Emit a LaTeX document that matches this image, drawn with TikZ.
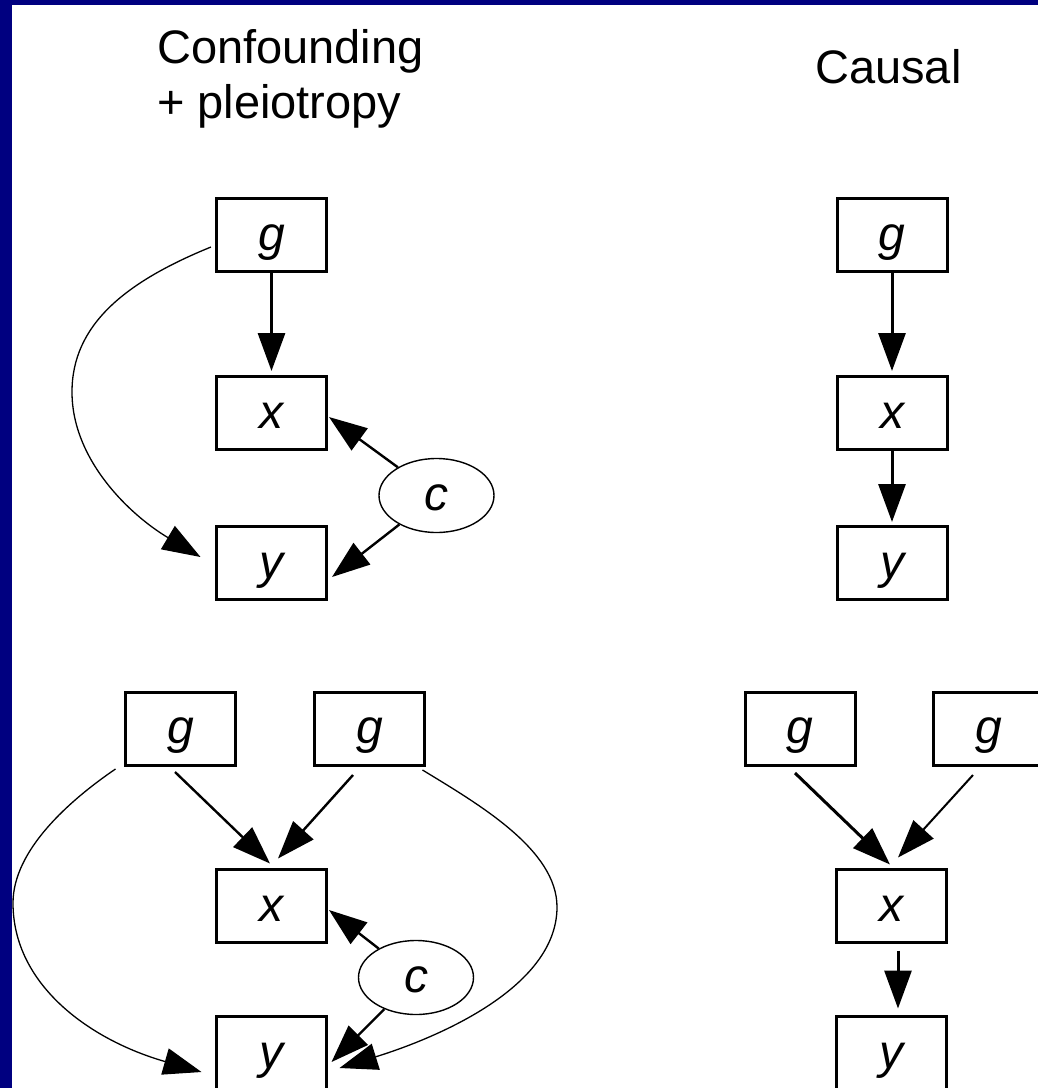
\documentclass[tikz,border=0pt]{standalone}
\usepackage{fontspec}
\setmainfont{Liberation Sans}
\usetikzlibrary{arrows.meta,shapes.geometric}
\definecolor{navyb}{RGB}{0,0,128}
\begin{document}
\begin{tikzpicture}[x=1pt,y=-1pt,
  lbl/.style={font=\fontsize{48}{48}\selectfont\itshape, text height=34pt, text depth=4pt},
  box/.style={draw, lbl, line width=3pt, minimum width=110pt, minimum height=73pt, inner sep=0pt},
  ell/.style={draw, lbl, ellipse, line width=1.4pt, minimum width=115pt, minimum height=74pt, inner sep=0pt},
  ttl/.style={font=\fontsize{47}{47}\selectfont, inner sep=0pt, anchor=base west},
  tip/.style={-{Triangle[length=38pt,width=27pt]}},
  thk/.style={tip, line width=3pt},
  med/.style={tip, line width=2.4pt},
  thn/.style={tip, line width=1.3pt}]
\useasboundingbox (0,0) rectangle (1038,1088);
\fill[navyb] (0,0) rectangle (1038,1088);
\fill[white] (12,5) rectangle (1038,1088);

% titles
\node[ttl] (t1) at (157,63) {Confounding};
\node[ttl] (t2) at (157,118) {+ pleiotropy};
\node[ttl] (t3) at (815,83) {Causal};

% top-left
\node[box] (g1) at (271.5,235) {g};
\node[box] (x1) at (271.5,413) {x};
\node[box] (y1) at (271.5,563) {y};
\node[ell] (c1) at (436.5,495.5) {c};
\draw[thk] (g1.south) -- ([yshift=4pt]x1.north);
\draw[med] (c1) -- ([xshift=1pt,yshift=-4pt]x1.east);
\draw[med] (c1) -- ([xshift=4pt,yshift=-14pt]y1.east);
\draw[thn] ([xshift=-4pt,yshift=-12pt]g1.west) .. controls (125,282) and (72,325) .. (72,392)
  .. controls (72,460) and (130,515) .. ([xshift=-14.5pt,yshift=6pt]y1.west);

% top-right
\node[box] (g2) at (892,235) {g};
\node[box] (x2) at (892,413) {x};
\node[box] (y2) at (892,563) {y};
\draw[thk] (g2.south) -- ([yshift=4pt]x2.north);
\draw[thk] (x2.south) -- ([yshift=3pt]y2.north);

% bottom-left
\node[box] (g3) at (180.5,728.5) {g};
\node[box] (g4) at (369.5,728.5) {g};
\node[box] (x3) at (271.5,906) {x};
\node[ell] (c3) at (416,977.5) {c};
\node[box] (y3) at (271.5,1053) {y};
\draw[med] ([xshift=-5.5pt,yshift=-5.5pt]g3.south) -- ([xshift=-1.5pt,yshift=4.5pt]x3.north);
\draw[med] ([xshift=-16.5pt,yshift=-8.5pt]g4.south) -- ([xshift=6.5pt,yshift=9.5pt]x3.north);
\draw[med] (c3) -- ([xshift=1pt,yshift=-4pt]x3.east);
\draw[med] (c3) -- ([xshift=3.5pt,yshift=-9pt]y3.east);
\draw[thn] ([xshift=-8.5pt,yshift=-2.5pt]g3.south west) .. controls (70,800) and (13,850) .. (13,903)
  .. controls (13,985) and (90,1040) .. ([xshift=-13.5pt,yshift=-19pt]y3.west);
\draw[thn] ([xshift=-3.5pt,yshift=-3.5pt]g4.south east) .. controls (480,805) and (557,850) .. (557,907)
  .. controls (557,990) and (430,1040) .. ([xshift=11.5pt,yshift=-15pt]y3.east);

% bottom-right
\node[box] (g5) at (800,728.5) {g};
\node[box] (g6) at (988.5,728.5) {g};
\node[box] (x4) at (891.5,906) {x};
\node[box] (y4) at (891.5,1053) {y};
\draw[thk] ([xshift=-5pt,yshift=-6.5pt]g5.south) -- ([xshift=-1.5pt,yshift=3.5pt]x4.north);
\draw[tip, line width=2pt] ([xshift=-15.5pt,yshift=-8.5pt]g6.south) -- ([xshift=6.5pt,yshift=10.5pt]x4.north);
\draw[thk] ([xshift=6.5pt,yshift=-6.5pt]x4.south) -- ([xshift=6.5pt,yshift=6.5pt]y4.north);
\end{tikzpicture}
\end{document}
